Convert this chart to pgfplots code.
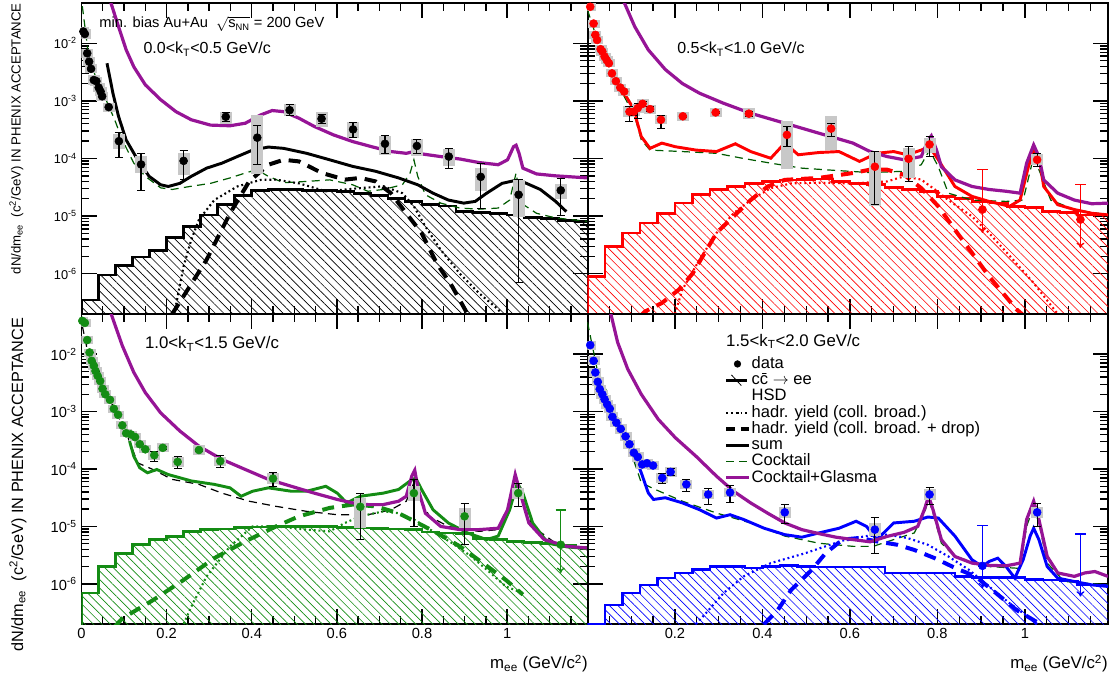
\documentclass[border=0pt]{standalone}
\usepackage{fontspec}
\setmainfont{Liberation Sans}
\usepackage{pgfplots}
\pgfplotsset{compat=1.18}
\usetikzlibrary{arrows.meta,patterns.meta}

\definecolor{cpurple}{RGB}{150,20,150}
\definecolor{cgreen}{RGB}{20,140,20}
\definecolor{cdkgreen}{RGB}{0,90,0}
\definecolor{cblue}{RGB}{0,0,255}
\definecolor{cred}{RGB}{255,0,0}
\definecolor{cbox}{RGB}{200,200,200}

\begin{document}
\begin{tikzpicture}
\path[use as bounding box] (0pt,0pt) rectangle (837pt,506.25pt);

\begin{axis}[scale only axis, ymode=log, xmin=0, xmax=1.19, ymin=2e-7, ymax=5e-2,
  anchor=south west, at={(61.1pt,270.75pt)}, width=379.9pt, height=233.25pt,
  axis line style={line width=1.4pt},
  xtick={0,0.2,0.4,0.6,0.8,1}, xticklabels={},
  minor xtick={0.05,0.1,0.15,0.25,0.3,0.35,0.45,0.5,0.55,0.65,0.7,0.75,0.85,0.9,0.95,1.05,1.1,1.15},
  ytick={1e-6,1e-5,1e-4,1e-3,1e-2},
  yticklabels={10\textsuperscript{-6},10\textsuperscript{-5},10\textsuperscript{-4},10\textsuperscript{-3},10\textsuperscript{-2}},
  tick align=inside, major tick length=11.5pt, minor tick length=6pt,
  tick style={black, line width=1pt},
  tick label style={font=\fontsize{9.6}{9.6}\selectfont}]
\addplot[forget plot, black, const plot, line width=2pt, pattern={Lines[angle=-45,distance=4.5pt,line width=0.5pt]}, pattern color=black] coordinates {(0,1e-9)(0,3.5e-7)(0.04,9.5e-7)(0.08,1.4e-6)(0.12,1.95e-6)(0.16,2.5e-6)(0.2,4.2e-6)(0.24,6.6e-6)(0.28,1.05e-5)(0.32,1.6e-5)(0.36,2.3e-5)(0.4,2.8e-5)(0.44,2.9e-5)(0.48,2.9e-5)(0.52,2.8e-5)(0.56,2.8e-5)(0.6,2.7e-5)(0.64,2.5e-5)(0.68,2.3e-5)(0.72,2.0e-5)(0.76,1.8e-5)(0.8,1.6e-5)(0.84,1.5e-5)(0.88,1.2e-5)(0.92,1.15e-5)(0.96,1.1e-5)(1.0,1.05e-5)(1.04,9.5e-6)(1.08,9e-6)(1.12,8.5e-6)(1.16,8e-6)(1.2,8e-6)(1.2,1e-9)} -- cycle;
\addplot[forget plot, cdkgreen, line width=0.9pt, dash pattern=on 6pt off 4pt] coordinates {(0.002,4.4e-2)(0.015,7.7e-3)(0.033,2.6e-3)(0.051,1.36e-3)(0.078,4.7e-4)(0.096,2.1e-4)(0.123,8.3e-5)(0.150,4.9e-5)(0.186,3.1e-5)(0.213,2.9e-5)(0.258,3.3e-5)(0.303,3.7e-5)(0.349,4.6e-5)(0.385,5.6e-5)(0.412,6.4e-5)(0.439,4.9e-5)(0.475,3.8e-5)(0.529,4.0e-5)(0.583,4.26e-5)(0.637,3.5e-5)(0.673,2.7e-5)(0.709,2.9e-5)(0.754,3.5e-5)(0.772,5.6e-5)(0.781,9.5e-5)(0.790,4.9e-5)(0.808,2.35e-5)(0.844,1.68e-5)(0.889,1.38e-5)(0.934,1.32e-5)(0.979,1.38e-5)(1.006,1.9e-5)(1.021,5.6e-5)(1.033,1.68e-5)(1.069,1.12e-5)(1.114,9.3e-6)(1.19,8.1e-6)};
\addplot[forget plot, black, line width=1.6pt, dash pattern=on 1.4pt off 2.2pt] coordinates {(0.218,2e-7)(0.240,1.35e-6)(0.258,3.9e-6)(0.276,8.7e-6)(0.312,1.9e-5)(0.366,3.27e-5)(0.421,4.26e-5)(0.457,4.3e-5)(0.511,3.7e-5)(0.574,2.7e-5)(0.664,3.1e-5)(0.709,3.3e-5)(0.754,2.5e-5)(0.781,1.48e-5)(0.808,6.6e-6)(0.844,2.6e-6)(0.889,1.0e-6)(0.934,4.6e-7)(0.979,2.4e-7)(1.0,1.5e-7)};
\addplot[forget plot, black, line width=3pt, dash pattern=on 9pt off 6pt] coordinates {(0.213,2e-7)(0.240,4.1e-7)(0.294,1.75e-6)(0.349,1.12e-5)(0.394,4.0e-5)(0.439,7.8e-5)(0.475,9.5e-5)(0.511,8.9e-5)(0.565,5.6e-5)(0.619,4.3e-5)(0.655,4.6e-5)(0.691,4.0e-5)(0.727,2.5e-5)(0.763,1.12e-5)(0.799,5.1e-6)(0.835,1.5e-6)(0.871,6.0e-7)(0.907,2e-7)};
\addplot[forget plot, black, line width=2.2pt] coordinates {(0.060,4.5e-3)(0.074,1.35e-3)(0.087,5.4e-4)(0.105,2.1e-4)(0.132,9.5e-5)(0.159,4.9e-5)(0.186,3.5e-5)(0.204,3.27e-5)(0.231,3.7e-5)(0.258,4.9e-5)(0.294,6.8e-5)(0.330,8.3e-5)(0.366,1.08e-4)(0.402,1.4e-4)(0.439,1.58e-4)(0.475,1.5e-4)(0.529,1.23e-4)(0.583,9.5e-5)(0.637,7.3e-5)(0.691,6.0e-5)(0.745,4.6e-5)(0.790,3.5e-5)(0.826,2.5e-5)(0.862,1.9e-5)(0.898,1.68e-5)(0.925,1.8e-5)(0.952,2.5e-5)(0.988,3.7e-5)(1.015,4.1e-5)(1.042,3.8e-5)(1.078,2.9e-5)(1.114,1.8e-5)(1.139,1.2e-5)};
\addplot[forget plot, cpurple, line width=2.4pt] coordinates {(0.065,6e-2)(0.069,5.07e-2)(0.087,1.95e-2)(0.105,7.7e-3)(0.123,3.9e-3)(0.150,1.9e-3)(0.186,1.05e-3)(0.222,6.5e-4)(0.258,4.7e-4)(0.303,3.8e-4)(0.349,3.7e-4)(0.385,4.1e-4)(0.421,5.7e-4)(0.448,6.8e-4)(0.475,6.5e-4)(0.511,5.0e-4)(0.547,3.6e-4)(0.592,2.57e-4)(0.637,1.97e-4)(0.682,1.6e-4)(0.727,1.32e-4)(0.763,1.23e-4)(0.781,1.32e-4)(0.800,1.2e-4)(0.844,1.08e-4)(0.889,9.8e-5)(0.934,8.5e-5)(0.979,7.8e-5)(1.001,9.5e-5)(1.015,1.6e-4)(1.021,1.7e-4)(1.028,1.23e-4)(1.037,6.8e-5)(1.069,5.4e-5)(1.114,5.0e-5)(1.19,4.6e-5)};
\addplot[forget plot, cbox, only marks, mark=none, error bars/.cd, y dir=both, y explicit relative, error mark=none, error bar style={cbox, line width=9pt}] table[x=x, y=y, y error plus=bp, y error minus=bm] {
x y bp bm
0.0045 1.6e-2 0.2 0.17
0.008 1.45e-2 0.2 0.17
0.0135 6.7e-3 0.2 0.17
0.018 4.8e-3 0.2 0.17
0.0225 3.6e-3 0.2 0.17
0.029 2.3e-3 0.2 0.17
0.035 2.2e-3 0.2 0.17
0.0405 1.7e-3 0.2 0.17
0.045 1.45e-3 0.2 0.17
0.0486 1.2e-3 0.2 0.17
0.064 7.8e-4 0.2 0.17
0.088 2.0e-4 0.35 0.26
0.14 7.9e-5 0.38 0.29
0.24 9.1e-5 0.39 0.43
0.339 5.3e-4 0.22 0.24
0.413 2.3e-4 1.49 0.77
0.489 6.9e-4 0.27 0.22
0.564 4.9e-4 0.33 0.27
0.638 3.2e-4 0.33 0.28
0.713 1.8e-4 0.36 0.35
0.788 1.65e-4 0.3 0.33
0.863 1.08e-4 0.33 0.3
0.938 4.8e-5 0.41 0.44
1.027 2.35e-5 0.82 0.59
1.126 2.8e-5 0.3 0.3
};
\addplot[forget plot, black, only marks, mark=*, mark size=3pt, error bars/.cd, y dir=both, y explicit relative, error bar style={black, line width=0.9pt}] table[x=x, y=y, y error plus=sp, y error minus=sm] {
x y sp sm
0.0045 1.6e-2 0 0
0.008 1.45e-2 0 0
0.0135 6.7e-3 0 0
0.018 4.8e-3 0 0
0.0225 3.6e-3 0 0
0.029 2.3e-3 0 0
0.035 2.2e-3 0 0
0.0405 1.7e-3 0 0
0.045 1.45e-3 0 0
0.0486 1.2e-3 0 0
0.064 7.8e-4 0 0
0.088 2.0e-4 0.41 0.47
0.14 7.9e-5 0.55 0.64
0.24 9.1e-5 0.55 0.53
0.339 5.3e-4 0.18 0.18
0.413 2.3e-4 0.66 0.66
0.489 6.9e-4 0.26 0.17
0.564 4.9e-4 0.2 0.17
0.638 3.2e-4 0.35 0.26
0.713 1.8e-4 0.39 0.32
0.788 1.65e-4 0.3 0.26
0.863 1.08e-4 0.38 0.38
0.938 4.8e-5 0.74 0.71
1.027 2.35e-5 0.82 0.97
1.126 2.8e-5 0.62 0.63
};
\node[anchor=west, inner sep=0pt, font=\fontsize{11}{11}\selectfont] at (rel axis cs:0.035,0.932) {min. bias Au+Au \ $\sqrt{\mbox{s}_{\mbox{\scriptsize NN}}}$ = 200 GeV};
\node[anchor=west, inner sep=0pt, font=\fontsize{12}{12}\selectfont] at (rel axis cs:0.122,0.852) {0.0<k\textsubscript{T}<0.5 GeV/c};
\end{axis}

\begin{axis}[scale only axis, ymode=log, xmin=0, xmax=1.19, ymin=2e-7, ymax=5e-2,
  anchor=south west, at={(440.6pt,270.75pt)}, width=390.4pt, height=233.25pt,
  axis line style={line width=1.4pt},
  xtick={0,0.2,0.4,0.6,0.8,1}, xticklabels={},
  minor xtick={0.05,0.1,0.15,0.25,0.3,0.35,0.45,0.5,0.55,0.65,0.7,0.75,0.85,0.9,0.95,1.05,1.1,1.15},
  ytick={1e-6,1e-5,1e-4,1e-3,1e-2}, yticklabels={},
  tick align=inside, major tick length=11.5pt, minor tick length=6pt,
  tick style={black, line width=1pt}]
\addplot[forget plot, cred, const plot, line width=2pt, pattern={Lines[angle=-45,distance=4.5pt,line width=0.5pt]}, pattern color=cred] coordinates {(0,1e-9)(0,9e-7)(0.04,3e-6)(0.08,5.1e-6)(0.12,7.6e-6)(0.16,1.12e-5)(0.2,1.68e-5)(0.24,2.35e-5)(0.28,2.9e-5)(0.32,3.27e-5)(0.36,3.7e-5)(0.4,4.0e-5)(0.44,4.26e-5)(0.48,4.3e-5)(0.52,4.4e-5)(0.56,4.0e-5)(0.6,3.7e-5)(0.64,3.5e-5)(0.68,3.1e-5)(0.72,2.9e-5)(0.76,2.7e-5)(0.8,2.2e-5)(0.84,2.0e-5)(0.88,1.8e-5)(0.92,1.7e-5)(0.96,1.48e-5)(1.0,1.4e-5)(1.04,1.2e-5)(1.08,1.15e-5)(1.12,1.05e-5)(1.16,1.05e-5)(1.2,1.05e-5)(1.2,1e-9)} -- cycle;
\addplot[forget plot, cdkgreen, line width=0.9pt, dash pattern=on 6pt off 4pt] coordinates {(0,3.8e-2)(0.030,7.7e-3)(0.061,2.6e-3)(0.084,1.19e-3)(0.108,5.4e-4)(0.123,2.1e-4)(0.143,1.4e-4)(0.217,1.32e-4)(0.295,1.23e-4)(0.357,1.0e-4)(0.419,8.3e-5)(0.490,6.8e-5)(0.568,6.2e-5)(0.646,5.7e-5)(0.724,6.0e-5)(0.763,7.8e-5)(0.782,1.4e-4)(0.802,7.2e-5)(0.825,2.5e-5)(0.879,1.9e-5)(0.957,1.8e-5)(0.996,1.9e-5)(1.020,1.08e-4)(1.035,5.6e-5)(1.059,1.9e-5)(1.113,1.3e-5)(1.19,1.05e-5)};
\addplot[forget plot, cred, line width=1.6pt, dash pattern=on 1.4pt off 2.2pt] coordinates {(0.20,2e-7)(0.217,5.3e-7)(0.256,1.75e-6)(0.295,5.1e-6)(0.334,1.12e-5)(0.373,1.9e-5)(0.419,3.06e-5)(0.466,3.7e-5)(0.529,3.8e-5)(0.607,3.7e-5)(0.685,4.0e-5)(0.724,4.9e-5)(0.763,4.3e-5)(0.794,2.9e-5)(0.825,1.9e-5)(0.879,9.9e-6)(0.918,5.1e-6)(0.973,1.75e-6)(1.020,6.9e-7)(1.075,2e-7)};
\addplot[forget plot, cred, line width=3pt, dash pattern=on 9pt off 6pt] coordinates {(0.120,1.8e-7)(0.131,2.2e-7)(0.170,3.1e-7)(0.209,5.3e-7)(0.240,1.0e-6)(0.295,5.1e-6)(0.334,9.9e-6)(0.373,1.9e-5)(0.412,3.27e-5)(0.451,4.26e-5)(0.529,4.6e-5)(0.607,5.6e-5)(0.646,6.4e-5)(0.685,6.4e-5)(0.724,5.2e-5)(0.763,3.06e-5)(0.802,1.48e-5)(0.840,5.8e-6)(0.879,2.3e-6)(0.918,9.0e-7)(0.981,2.4e-7)(1.0,1.8e-7)};
\addplot[forget plot, cred, line width=2.2pt] coordinates {(0.084,1.36e-3)(0.100,8.5e-4)(0.112,4.7e-4)(0.123,2.4e-4)(0.143,1.5e-4)(0.170,1.85e-4)(0.201,1.6e-4)(0.248,1.4e-4)(0.295,1.32e-4)(0.338,1.8e-4)(0.373,1.32e-4)(0.419,1.01e-4)(0.451,1.85e-4)(0.482,1.16e-4)(0.529,1.27e-4)(0.575,1.32e-4)(0.622,8.9e-5)(0.661,1.23e-4)(0.700,1.32e-4)(0.731,1.16e-4)(0.763,1.4e-4)(0.782,1.6e-4)(0.802,9.5e-5)(0.840,3.27e-5)(0.879,2.2e-5)(0.918,1.8e-5)(0.965,1.48e-5)(0.989,1.9e-5)(1.008,7.2e-5)(1.020,1.4e-4)(1.032,1.08e-4)(1.043,3.27e-5)(1.075,1.58e-5)(1.113,1.3e-5)(1.153,1.12e-5)(1.19,1.05e-5)};
\addplot[forget plot, cpurple, line width=2.4pt] coordinates {(0.075,6e-2)(0.084,5.1e-2)(0.108,1.95e-2)(0.139,7.7e-3)(0.178,3.5e-3)(0.217,2.0e-3)(0.256,1.36e-3)(0.311,9.1e-4)(0.373,6.1e-4)(0.451,4.1e-4)(0.529,2.75e-4)(0.607,1.85e-4)(0.646,1.32e-4)(0.685,1.08e-4)(0.724,9.5e-5)(0.763,1.08e-4)(0.779,2.1e-4)(0.786,2.47e-4)(0.798,1.4e-4)(0.809,7.2e-5)(0.840,4.26e-5)(0.879,3.27e-5)(0.918,2.9e-5)(0.957,2.7e-5)(0.989,2.5e-5)(1.004,8.3e-5)(1.020,1.72e-4)(1.032,1.08e-4)(1.043,4.26e-5)(1.075,2.5e-5)(1.113,1.9e-5)(1.153,1.64e-5)(1.19,1.68e-5)};
\addplot[forget plot, cbox, only marks, mark=none, error bars/.cd, y dir=both, y explicit relative, error mark=none, error bar style={cbox, line width=9pt}] table[x=x, y=y, y error plus=bp, y error minus=bm] {
x y bp bm
0.0063 4.3e-2 0.17 0.15
0.014 2.2e-2 0.17 0.15
0.018 1.4e-2 0.17 0.15
0.022 1.14e-2 0.17 0.15
0.030 7.9e-3 0.17 0.15
0.034 7.2e-3 0.17 0.15
0.039 5.9e-3 0.17 0.15
0.044 5.1e-3 0.17 0.15
0.049 4.5e-3 0.17 0.15
0.056 3.0e-3 0.17 0.15
0.065 2.2e-3 0.17 0.15
0.075 1.7e-3 0.17 0.15
0.084 1.45e-3 0.17 0.15
0.096 6.5e-4 0.23 0.2
0.106 6.5e-4 0.2 0.17
0.115 7.5e-4 0.2 0.17
0.126 8.9e-4 0.2 0.17
0.143 7.2e-4 0.2 0.17
0.168 4.7e-4 0.2 0.17
0.218 5.4e-4 0.2 0.17
0.293 6.3e-4 0.2 0.17
0.369 6.0e-4 0.25 0.2
0.456 2.57e-4 0.71 0.74
0.557 3.3e-4 0.64 0.57
0.657 7.2e-5 0.82 0.79
0.734 9.9e-5 0.53 0.54
0.782 1.75e-4 0.29 0.29
1.028 9.5e-5 0.27 0.2
};
\addplot[forget plot, cred, only marks, mark=*, mark size=3pt, error bars/.cd, y dir=both, y explicit relative, error bar style={black, line width=0.9pt}] table[x=x, y=y, y error plus=sp, y error minus=sm] {
x y sp sm
0.0063 4.3e-2 0 0
0.014 2.2e-2 0 0
0.018 1.4e-2 0 0
0.022 1.14e-2 0 0
0.030 7.9e-3 0 0
0.034 7.2e-3 0 0
0.039 5.9e-3 0 0
0.044 5.1e-3 0 0
0.049 4.5e-3 0 0
0.056 3.0e-3 0 0
0.065 2.2e-3 0 0
0.075 1.7e-3 0 0
0.084 1.45e-3 0 0
0.096 6.5e-4 0.25 0.33
0.106 6.5e-4 0.15 0.15
0.115 7.5e-4 0.22 0.33
0.126 8.9e-4 0.1 0.1
0.143 7.2e-4 0.1 0.1
0.168 4.7e-4 0.22 0.28
0.218 5.4e-4 0.05 0.05
0.293 6.3e-4 0.05 0.05
0.369 6.0e-4 0.1 0.1
0.456 2.57e-4 0.4 0.37
0.557 3.3e-4 0.25 0.26
0.657 7.2e-5 0.82 0.78
0.734 9.9e-5 0.64 0.6
0.782 1.75e-4 0.37 0.38
1.028 9.5e-5 0.3 0.24
0.903 1.3e-5 0 0
1.127 8.7e-6 0 0
};
\addplot[forget plot, cred, line width=1pt, -{To[length=4pt,width=6pt]}] coordinates {(0.903,6.4e-5)(0.903,5.1e-6)};
\addplot[forget plot, cred, line width=1pt] coordinates {(0.891,6.4e-5)(0.915,6.4e-5)};
\addplot[forget plot, cred, line width=1pt, -{To[length=4pt,width=6pt]}] coordinates {(1.127,3.5e-5)(1.127,2.8e-6)};
\addplot[forget plot, cred, line width=1pt] coordinates {(1.115,3.5e-5)(1.139,3.5e-5)};
\node[anchor=west, inner sep=0pt, font=\fontsize{12}{12}\selectfont] at (rel axis cs:0.172,0.852) {0.5<k\textsubscript{T}<1.0 GeV/c};
\end{axis}

\begin{axis}[scale only axis, ymode=log, xmin=0, xmax=1.19, ymin=2e-7, ymax=5e-2,
  anchor=south west, at={(61.1pt,38.25pt)}, width=379.9pt, height=232.5pt,
  axis line style={line width=1.4pt},
  xtick={0,0.2,0.4,0.6,0.8,1}, xticklabels={0,0.2,0.4,0.6,0.8,1},
  minor xtick={0.05,0.1,0.15,0.25,0.3,0.35,0.45,0.5,0.55,0.65,0.7,0.75,0.85,0.9,0.95,1.05,1.1,1.15},
  ytick={1e-6,1e-5,1e-4,1e-3,1e-2},
  yticklabels={10\textsuperscript{-6},10\textsuperscript{-5},10\textsuperscript{-4},10\textsuperscript{-3},10\textsuperscript{-2}},
  tick align=inside, major tick length=11.5pt, minor tick length=6pt,
  tick style={black, line width=1pt},
  tick label style={font=\fontsize{11}{11}\selectfont},
  xlabel={m\textsubscript{ee} (GeV/c\textsuperscript{2})},
  xlabel style={at={(rel axis cs:1,0)}, anchor=north east, yshift=-23pt, inner sep=0pt, font=\fontsize{12.6}{12.6}\selectfont}]
\addplot[forget plot, cgreen, const plot, line width=2pt, pattern={Lines[angle=-45,distance=4.5pt,line width=0.5pt]}, pattern color=cgreen] coordinates {(0,1e-9)(0,6.9e-7)(0.04,2e-6)(0.08,3.4e-6)(0.12,4.8e-6)(0.16,5.9e-6)(0.2,6.7e-6)(0.24,8.2e-6)(0.28,8.8e-6)(0.32,9e-6)(0.36,9.5e-6)(0.4,9.8e-6)(0.44,1e-5)(0.48,1e-5)(0.52,1e-5)(0.56,1e-5)(0.6,9.6e-6)(0.64,9.4e-6)(0.68,9.3e-6)(0.72,9e-6)(0.76,8.8e-6)(0.8,8e-6)(0.84,7.7e-6)(0.88,7.5e-6)(0.92,6.2e-6)(0.96,5.9e-6)(1.0,5.5e-6)(1.04,5.2e-6)(1.08,5e-6)(1.12,4.6e-6)(1.16,4.4e-6)(1.2,4.4e-6)(1.2,1e-9)} -- cycle;
\addplot[forget plot, black, line width=0.9pt, dash pattern=on 6pt off 4pt] coordinates {(0.002,3.1e-2)(0.015,1.07e-2)(0.042,3.66e-3)(0.078,1.1e-3)(0.105,4.3e-4)(0.132,1.28e-4)(0.168,9.8e-5)(0.213,6.6e-5)(0.276,5.4e-5)(0.330,3.8e-5)(0.394,2.75e-5)(0.457,2.24e-5)(0.529,1.83e-5)(0.601,1.6e-5)(0.673,1.6e-5)(0.727,1.95e-5)(0.763,2.75e-5)(0.781,5.75e-5)(0.794,3.35e-5)(0.817,1.5e-5)(0.862,1.0e-5)(0.934,8.2e-6)(0.979,8.8e-6)(1.006,1.95e-5)(1.022,5.0e-5)(1.037,2.57e-5)(1.06,1.0e-5)(1.114,5.1e-6)(1.19,3.9e-6)};
\addplot[forget plot, cgreen, line width=1.6pt, dash pattern=on 1.4pt off 2.2pt] coordinates {(0.240,2e-7)(0.258,4.0e-7)(0.294,1.35e-6)(0.349,4.5e-6)(0.402,1.0e-5)(0.457,1.0e-5)(0.529,8.8e-6)(0.583,8.2e-6)(0.619,1.15e-5)(0.655,1.5e-5)(0.709,1.83e-5)(0.745,1.7e-5)(0.781,1.32e-5)(0.826,8.2e-6)(0.871,5.1e-6)(0.916,3.0e-6)(0.961,1.55e-6)(0.997,9.0e-7)(1.037,6.9e-7)};
\addplot[forget plot, cgreen, line width=3pt, dash pattern=on 9pt off 6pt] coordinates {(0.078,1.8e-7)(0.096,2.5e-7)(0.168,5.2e-7)(0.240,1.17e-6)(0.312,2.8e-6)(0.385,5.5e-6)(0.457,1.0e-5)(0.511,1.5e-5)(0.583,2.1e-5)(0.637,2.4e-5)(0.691,2.24e-5)(0.745,1.7e-5)(0.790,1.15e-5)(0.835,7.7e-6)(0.889,4.5e-6)(0.943,2.3e-6)(0.997,1.17e-6)(1.037,6.5e-7)};
\addplot[forget plot, cgreen, line width=2.2pt] coordinates {(0.113,3.06e-4)(0.123,1.67e-4)(0.137,1.05e-4)(0.155,8.6e-5)(0.177,9.8e-5)(0.204,8.0e-5)(0.258,6.2e-5)(0.312,5.4e-5)(0.349,4.7e-5)(0.375,3.35e-5)(0.402,4.1e-5)(0.439,4.7e-5)(0.493,4.1e-5)(0.529,4.1e-5)(0.574,5.0e-5)(0.601,3.8e-5)(0.623,2.57e-5)(0.655,3.35e-5)(0.709,3.8e-5)(0.745,4.4e-5)(0.772,6.2e-5)(0.785,7.0e-5)(0.799,4.4e-5)(0.826,1.95e-5)(0.862,1.15e-5)(0.907,7.7e-6)(0.952,5.9e-6)(0.979,6.8e-6)(1.006,1.95e-5)(1.024,5.75e-5)(1.037,3.8e-5)(1.06,1.15e-5)(1.096,5.1e-6)(1.141,4.4e-6)(1.19,4.1e-6)};
\addplot[forget plot, cpurple, line width=2.4pt] coordinates {(0.065,6e-2)(0.069,5.2e-2)(0.096,1.4e-2)(0.123,4.8e-3)(0.150,2.14e-3)(0.186,9.5e-4)(0.231,4.6e-4)(0.276,2.5e-4)(0.330,1.47e-4)(0.385,9.8e-5)(0.439,6.6e-5)(0.493,5.0e-5)(0.547,3.8e-5)(0.601,2.95e-5)(0.637,2.57e-5)(0.673,2.4e-5)(0.709,2.4e-5)(0.745,2.75e-5)(0.763,3.35e-5)(0.776,7.5e-5)(0.783,9.5e-5)(0.791,4.4e-5)(0.808,1.7e-5)(0.844,1.0e-5)(0.889,8.8e-6)(0.934,8.8e-6)(0.979,9.3e-6)(1.001,1.95e-5)(1.019,8.0e-5)(1.033,3.35e-5)(1.051,1.15e-5)(1.087,5.9e-6)(1.141,4.5e-6)(1.19,4.2e-6)};
\addplot[forget plot, cbox, only marks, mark=none, error bars/.cd, y dir=both, y explicit relative, error mark=none, error bar style={cbox, line width=9pt}] table[x=x, y=y, y error plus=bp, y error minus=bm] {
x y bp bm
0.002 3.8e-2 0.17 0.15
0.008 3.5e-2 0.17 0.15
0.0135 1.76e-2 0.17 0.15
0.019 1.07e-2 0.17 0.15
0.024 7.65e-3 0.17 0.15
0.029 6.3e-3 0.17 0.15
0.033 5.1e-3 0.17 0.15
0.038 4.2e-3 0.17 0.15
0.044 3.4e-3 0.17 0.15
0.0495 2.5e-3 0.17 0.15
0.056 2.0e-3 0.17 0.15
0.067 1.6e-3 0.17 0.15
0.076 1.12e-3 0.17 0.15
0.086 8.8e-4 0.17 0.15
0.096 5.75e-4 0.17 0.15
0.105 4.2e-4 0.17 0.15
0.116 4.0e-4 0.17 0.15
0.126 3.6e-4 0.17 0.15
0.137 2.7e-4 0.17 0.15
0.150 2.2e-4 0.17 0.15
0.171 1.74e-4 0.2 0.17
0.191 2.34e-4 0.2 0.17
0.226 1.33e-4 0.2 0.17
0.276 2.14e-4 0.2 0.17
0.326 1.37e-4 0.2 0.17
0.450 6.8e-5 0.25 0.2
0.655 2.2e-5 0.43 0.57
0.781 3.8e-5 0.31 0.28
0.900 1.5e-5 0.39 0.38
1.026 3.8e-5 0.25 0.2
};
\addplot[forget plot, cgreen, only marks, mark=*, mark size=3pt, error bars/.cd, y dir=both, y explicit relative, error bar style={black, line width=0.9pt}] table[x=x, y=y, y error plus=sp, y error minus=sm] {
x y sp sm
0.002 3.8e-2 0 0
0.008 3.5e-2 0 0
0.0135 1.76e-2 0 0
0.019 1.07e-2 0 0
0.024 7.65e-3 0 0
0.029 6.3e-3 0 0
0.033 5.1e-3 0 0
0.038 4.2e-3 0 0
0.044 3.4e-3 0 0
0.0495 2.5e-3 0 0
0.056 2.0e-3 0 0
0.067 1.6e-3 0 0
0.076 1.12e-3 0 0
0.086 8.8e-4 0 0
0.096 5.75e-4 0 0
0.105 4.2e-4 0 0
0.116 4.0e-4 0 0
0.126 3.6e-4 0 0
0.137 2.7e-4 0 0
0.150 2.2e-4 0 0
0.171 1.74e-4 0.17 0.21
0.191 2.34e-4 0.05 0.05
0.226 1.33e-4 0.26 0.21
0.276 2.14e-4 0.05 0.05
0.326 1.37e-4 0.25 0.22
0.450 6.8e-5 0.29 0.27
0.655 2.2e-5 0.71 0.73
0.781 3.8e-5 0.76 0.74
0.900 1.5e-5 0.71 0.68
1.026 3.8e-5 0.5 0.42
1.126 4.8e-6 0 0
};
\addplot[forget plot, cgreen, line width=1pt, -{To[length=4pt,width=6pt]}] coordinates {(1.126,1.94e-5)(1.126,1.55e-6)};
\addplot[forget plot, cgreen, line width=1pt] coordinates {(1.114,1.94e-5)(1.138,1.94e-5)};
\node[anchor=west, inner sep=0pt, font=\fontsize{12.6}{12.6}\selectfont] at (rel axis cs:0.125,0.903) {1.0<k\textsubscript{T}<1.5 GeV/c};
\end{axis}

\begin{axis}[scale only axis, ymode=log, xmin=0, xmax=1.19, ymin=2e-7, ymax=5e-2,
  anchor=south west, at={(440.6pt,38.25pt)}, width=390.4pt, height=232.5pt,
  axis line style={line width=1.4pt},
  xtick={0,0.2,0.4,0.6,0.8,1}, xticklabels={,0.2,0.4,0.6,0.8,1},
  minor xtick={0.05,0.1,0.15,0.25,0.3,0.35,0.45,0.5,0.55,0.65,0.7,0.75,0.85,0.9,0.95,1.05,1.1,1.15},
  ytick={1e-6,1e-5,1e-4,1e-3,1e-2}, yticklabels={},
  tick align=inside, major tick length=11.5pt, minor tick length=6pt,
  tick style={black, line width=1pt},
  tick label style={font=\fontsize{11}{11}\selectfont},
  xlabel={m\textsubscript{ee} (GeV/c\textsuperscript{2})},
  xlabel style={at={(rel axis cs:1,0)}, anchor=north east, yshift=-23pt, inner sep=0pt, font=\fontsize{12.6}{12.6}\selectfont},
  legend cell align=left,
  legend style={at={(rel axis cs:0.262,0.866)}, anchor=north west, draw=none, fill=none, inner sep=0pt,
    nodes={inner sep=0.6pt, text height=8.8pt, text depth=2.2pt}, row sep=0pt,
    font=\fontsize{12.4}{12.4}\selectfont}]
\addplot[forget plot, cblue, const plot, line width=2pt, pattern={Lines[angle=-45,distance=4.5pt,line width=0.5pt]}, pattern color=cblue] coordinates {(0,1e-9)(0,2e-7)(0.04,4.3e-7)(0.08,6.9e-7)(0.12,9.6e-7)(0.16,1.26e-6)(0.2,1.55e-6)(0.24,1.8e-6)(0.28,2e-6)(0.32,2e-6)(0.36,1.9e-6)(0.4,2e-6)(0.44,2.1e-6)(0.48,2e-6)(0.52,1.97e-6)(0.56,1.97e-6)(0.6,1.97e-6)(0.64,1.97e-6)(0.68,1.55e-6)(0.72,1.55e-6)(0.76,1.55e-6)(0.8,1.55e-6)(0.84,1.35e-6)(0.88,1.3e-6)(0.92,1.3e-6)(0.96,1.28e-6)(1.0,1.2e-6)(1.04,1.17e-6)(1.08,1.12e-6)(1.12,9.6e-7)(1.16,9.6e-7)(1.2,9.6e-7)(1.2,1e-9)} -- cycle;
\addplot[forget plot, cdkgreen, line width=0.9pt, dash pattern=on 6pt off 4pt] coordinates {(0,3.6e-2)(0.022,5.5e-3)(0.061,1.1e-3)(0.092,2.9e-4)(0.123,5.75e-5)(0.155,4.4e-5)(0.217,2.75e-5)(0.295,1.71e-5)(0.373,1.15e-5)(0.451,6.8e-6)(0.529,5.1e-6)(0.607,4.5e-6)(0.653,4.5e-6)(0.700,5.9e-6)(0.747,7.7e-6)(0.770,1.7e-5)(0.780,2.95e-5)(0.790,1.7e-5)(0.809,5.1e-6)(0.840,3.0e-6)(0.918,2.0e-6)(0.989,1.86e-6)(1.004,1.0e-5)(1.020,2.24e-5)(1.032,1.15e-5)(1.051,2.3e-6)(1.090,1.1e-6)(1.19,9.6e-7)};
\addplot[forget plot, cblue, line width=1.6pt, dash pattern=on 1.4pt off 2.2pt] coordinates {(0.248,2e-7)(0.264,2.7e-7)(0.311,6.9e-7)(0.357,1.35e-6)(0.419,2.3e-6)(0.497,3.4e-6)(0.544,4.5e-6)(0.591,5.9e-6)(0.638,6.8e-6)(0.685,7.2e-6)(0.731,6.3e-6)(0.778,4.8e-6)(0.825,3.0e-6)(0.872,1.76e-6)(0.918,9.0e-7)(0.965,4.6e-7)(1.012,2.5e-7)(1.028,2e-7)};
\addplot[forget plot, cblue, line width=3pt, dash pattern=on 9pt off 6pt] coordinates {(0.404,2e-7)(0.435,3.5e-7)(0.466,7.9e-7)(0.513,1.76e-6)(0.544,3.4e-6)(0.583,5.9e-6)(0.622,6.3e-6)(0.661,5.5e-6)(0.708,4.8e-6)(0.747,3.9e-6)(0.794,2.8e-6)(0.840,1.9e-6)(0.887,1.35e-6)(0.934,6.9e-7)(0.981,3.5e-7)(1.035,2e-7)};
\addplot[forget plot, cblue, line width=2.2pt] coordinates {(0.108,1.67e-4)(0.123,8.6e-5)(0.139,3.84e-5)(0.151,2.95e-5)(0.178,3.16e-5)(0.217,2.57e-5)(0.256,1.96e-5)(0.295,1.4e-5)(0.326,1.6e-5)(0.357,1.32e-5)(0.404,9.3e-6)(0.451,7.2e-6)(0.490,6.5e-6)(0.529,7.7e-6)(0.575,9.3e-6)(0.614,1.23e-5)(0.638,1.0e-5)(0.661,5.9e-6)(0.677,7.7e-6)(0.700,1.15e-5)(0.747,1.23e-5)(0.778,1.46e-5)(0.802,1.4e-5)(0.840,6.8e-6)(0.879,2.63e-6)(0.903,2.0e-6)(0.918,2.45e-6)(0.938,2.8e-6)(0.957,2.0e-6)(0.977,1.26e-6)(0.996,2.63e-6)(1.012,6.8e-6)(1.020,9.3e-6)(1.032,5.9e-6)(1.051,2.0e-6)(1.075,1.26e-6)(1.113,1.1e-6)(1.153,9.6e-7)(1.19,9.0e-7)};
\addplot[forget plot, cpurple, line width=2.4pt] coordinates {(0.050,6e-2)(0.053,5.2e-2)(0.069,1.6e-2)(0.092,5.5e-3)(0.123,2.0e-3)(0.162,7.3e-4)(0.201,3.5e-4)(0.248,1.67e-4)(0.295,7.5e-5)(0.334,4.1e-5)(0.373,2.57e-5)(0.412,1.7e-5)(0.451,1.15e-5)(0.490,8.8e-6)(0.529,7.5e-6)(0.568,6.5e-6)(0.607,5.9e-6)(0.646,5.4e-6)(0.685,6.7e-6)(0.724,7.9e-6)(0.755,1.0e-5)(0.770,1.95e-5)(0.780,3.35e-5)(0.790,1.95e-5)(0.809,5.9e-6)(0.840,3.0e-6)(0.879,2.3e-6)(0.918,2.1e-6)(0.957,2.06e-6)(0.989,2.3e-6)(1.004,1.32e-5)(1.020,2.75e-5)(1.032,1.32e-5)(1.051,3.0e-6)(1.075,1.55e-6)(1.113,1.35e-6)(1.137,1.55e-6)(1.160,1.64e-6)(1.19,1.35e-6)};
\addplot[forget plot, cbox, only marks, mark=none, error bars/.cd, y dir=both, y explicit relative, error mark=none, error bar style={cbox, line width=9pt}] table[x=x, y=y, y error plus=bp, y error minus=bm] {
x y bp bm
0.0063 1.44e-2 0.2 0.17
0.014 7.65e-3 0.2 0.17
0.018 4.8e-3 0.2 0.17
0.0235 3.3e-3 0.2 0.17
0.028 2.46e-3 0.2 0.17
0.034 2.0e-3 0.2 0.17
0.039 1.64e-3 0.2 0.17
0.045 1.34e-3 0.2 0.17
0.051 1.12e-3 0.2 0.17
0.057 8.1e-4 0.2 0.17
0.066 6.4e-4 0.2 0.17
0.076 5.0e-4 0.2 0.17
0.087 3.7e-4 0.2 0.17
0.096 2.7e-4 0.2 0.17
0.106 1.92e-4 0.2 0.17
0.115 1.62e-4 0.2 0.17
0.125 1.2e-4 0.2 0.17
0.136 1.26e-4 0.2 0.17
0.150 1.15e-4 0.2 0.17
0.171 7.0e-5 0.22 0.18
0.190 8.9e-5 0.2 0.17
0.226 5.4e-5 0.2 0.17
0.276 3.6e-5 0.2 0.17
0.326 3.9e-5 0.2 0.17
0.451 1.76e-5 0.25 0.2
0.657 8.8e-6 0.28 0.22
0.782 3.6e-5 0.25 0.2
1.028 1.76e-5 0.25 0.2
};
\addplot[forget plot, cblue, only marks, mark=*, mark size=3pt, error bars/.cd, y dir=both, y explicit relative, error bar style={black, line width=0.9pt}] table[x=x, y=y, y error plus=sp, y error minus=sm] {
x y sp sm
0.0063 1.44e-2 0 0
0.014 7.65e-3 0 0
0.018 4.8e-3 0 0
0.0235 3.3e-3 0 0
0.028 2.46e-3 0 0
0.034 2.0e-3 0 0
0.039 1.64e-3 0 0
0.045 1.34e-3 0 0
0.051 1.12e-3 0 0
0.057 8.1e-4 0 0
0.066 6.4e-4 0 0
0.076 5.0e-4 0 0
0.087 3.7e-4 0 0
0.096 2.7e-4 0 0
0.106 1.92e-4 0 0
0.115 1.62e-4 0 0
0.125 1.2e-4 0 0
0.136 1.26e-4 0 0
0.150 1.15e-4 0 0
0.171 7.0e-5 0.22 0.18
0.190 8.9e-5 0.15 0.13
0.226 5.4e-5 0.22 0.24
0.276 3.6e-5 0.3 0.33
0.326 3.9e-5 0.36 0.33
0.451 1.76e-5 0.39 0.35
0.657 8.8e-6 0.67 0.62
0.782 3.6e-5 0.34 0.33
1.028 1.76e-5 0.46 0.43
0.903 2.06e-6 0 0
};
\addplot[forget plot, cblue, line width=1pt, -{To[length=4pt,width=6pt]}] coordinates {(0.903,1.05e-5)(0.903,8.4e-7)};
\addplot[forget plot, cblue, line width=1pt] coordinates {(0.891,1.05e-5)(0.915,1.05e-5)};
\addplot[forget plot, cblue, line width=1pt, -{To[length=4pt,width=6pt]}] coordinates {(1.127,7.4e-6)(1.127,6.0e-7)};
\addplot[forget plot, cblue, line width=1pt] coordinates {(1.115,7.4e-6)(1.139,7.4e-6)};
\node[anchor=west, inner sep=0pt, font=\fontsize{12.6}{12.6}\selectfont] at (rel axis cs:0.266,0.912) {1.5<k\textsubscript{T}<2.0 GeV/c};
\addlegendimage{only marks, mark=*, mark size=2.5pt, black}
\addlegendentry{data}
\addlegendimage{legend image code/.code={\draw[black,line width=2pt] (0cm,0cm) -- (0.55cm,0cm); \draw[black,line width=0.6pt] (0.14cm,0.14cm) -- (0.4cm,-0.14cm);}}
\addlegendentry{c\={c} $\rightarrow$ ee}
\addlegendimage{empty legend}
\addlegendentry{HSD}
\addlegendimage{black, line width=1.6pt, dash pattern=on 1.4pt off 2.2pt}
\addlegendentry{hadr. yield (coll. broad.)}
\addlegendimage{black, line width=3pt, dash pattern=on 7pt off 4pt}
\addlegendentry{hadr. yield (coll. broad. + drop)}
\addlegendimage{black, line width=2.2pt}
\addlegendentry{sum}
\addlegendimage{cdkgreen, line width=0.9pt, dash pattern=on 6pt off 4pt}
\addlegendentry{Cocktail}
\addlegendimage{cpurple, line width=2.4pt}
\addlegendentry{Cocktail+Glasma}
\end{axis}

\node[rotate=90, anchor=base east, inner sep=0pt, font=\fontsize{9.9}{9.9}\selectfont] at (15.5pt,504pt) {dN/dm\textsubscript{ee} \ (c\textsuperscript{2}/GeV) IN PHENIX ACCEPTANCE};
\node[rotate=90, anchor=base east, inner sep=0pt, font=\fontsize{12.2}{12.2}\selectfont] at (17.3pt,268pt) {dN/dm\textsubscript{ee} \ (c\textsuperscript{2}/GeV) IN PHENIX ACCEPTANCE};
\end{tikzpicture}
\end{document}
